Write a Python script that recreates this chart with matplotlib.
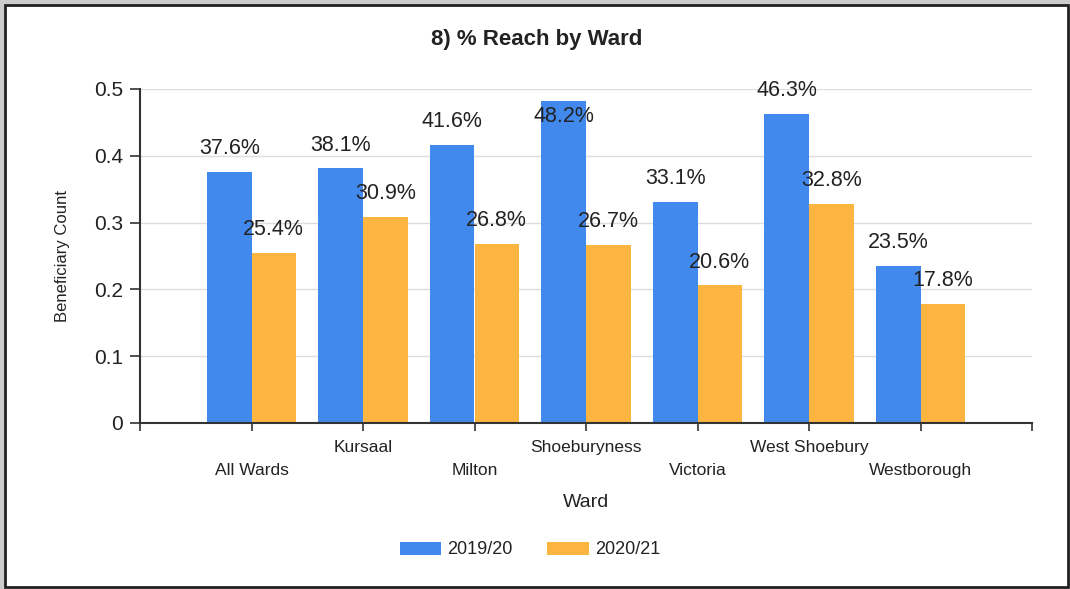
import matplotlib.pyplot as plt
from matplotlib.patches import Rectangle
import numpy as np

plt.rcParams['font.family'] = ['Liberation Sans', 'DejaVu Sans']

# data
wards = ["All Wards", "Kursaal", "Milton", "Shoeburyness", "Victoria", "West Shoebury", "Westborough"]
reach_2019 = [0.376, 0.381, 0.416, 0.482, 0.331, 0.463, 0.235]
reach_2020 = [0.254, 0.309, 0.268, 0.267, 0.206, 0.328, 0.178]
series_names = ["2019/20", "2020/21"]

blue = '#4289EE'
orange = '#FBB540'

fig = plt.figure(figsize=(10.7, 5.89), dpi=100, facecolor='#CCCCCC')

# white panel with dark frame, kept behind the axes
W, H = 1070, 589
frame = Rectangle((5 / W, 1 - 587 / H), 1063 / W, 582 / H, transform=fig.transFigure,
                  facecolor='white', edgecolor='#222222', linewidth=2, zorder=-10)
fig.patches.append(frame)

ax = fig.add_axes([140 / W, 1 - 423 / H, 892 / W, 334 / H])
ax.set_facecolor('none')

x = np.arange(len(wards))
w = 0.4
ax.bar(x - w / 2, reach_2019, width=w, color=blue, label=series_names[0], zorder=2)
ax.bar(x + w / 2, reach_2020, width=w, color=orange, label=series_names[1], zorder=2)

# value labels; labels that would leave the plot area go inside the bar
for xs, vals in ((x - w / 2, reach_2019), (x + w / 2, reach_2020)):
    for xi, v in zip(xs, vals):
        y = v + 0.035
        if y > 0.5:
            y = v - 0.023
        ax.text(xi, y, f"{v * 100:.1f}%", ha='center', va='center',
                fontsize=15.5, color='#222222', zorder=3)

ax.set_xlim(-1, 7)
ax.set_ylim(0, 0.5)
ax.set_yticks([0, 0.1, 0.2, 0.3, 0.4, 0.5])
ax.set_yticklabels(['0', '0.1', '0.2', '0.3', '0.4', '0.5'])
ax.grid(axis='y', color='#DDDDDD', linewidth=1, zorder=0)
ax.set_axisbelow(True)

# staggered category labels: even ones on the lower row, odd ones on the upper row
ax.set_xticks(x[::2])
ax.set_xticklabels(wards[::2])
ax.set_xticks([-1] + list(x[1::2]) + [7], minor=True)
ax.set_xticklabels([''] + wards[1::2] + [''], minor=True)
ax.tick_params(axis='x', which='both', length=6, width=1.2, color='#333333',
               labelsize=12.5, labelcolor='#222222')
ax.tick_params(axis='x', which='major', pad=23)
ax.tick_params(axis='x', which='minor', pad=6)
ax.tick_params(axis='y', length=7, width=1.2, color='#333333', pad=5,
               labelsize=15, labelcolor='#222222')

for side in ('top', 'right'):
    ax.spines[side].set_visible(False)
for side in ('left', 'bottom'):
    ax.spines[side].set_color('#333333')
    ax.spines[side].set_linewidth(1.5)

ax.set_ylabel("Beneficiary Count", fontsize=12, color='#222222')
ax.yaxis.set_label_coords(-0.078, 0.5)
ax.set_xlabel("Ward", fontsize=14, color='#222222')
ax.xaxis.set_label_coords(0.5, -0.213)

fig.text(537 / W, 1 - 40 / H, "8) % Reach by Ward", ha='center', va='center',
         fontsize=16, fontweight='bold', color='#222222')

fig.legend(loc='center', bbox_to_anchor=(530 / W, 1 - 550 / H), ncol=2, frameon=False,
           fontsize=13, handlelength=2.3, handleheight=0.75, handletextpad=0.35,
           columnspacing=1.9, labelcolor='#222222')

fig.savefig('out.png', dpi=100, facecolor=fig.get_facecolor())
